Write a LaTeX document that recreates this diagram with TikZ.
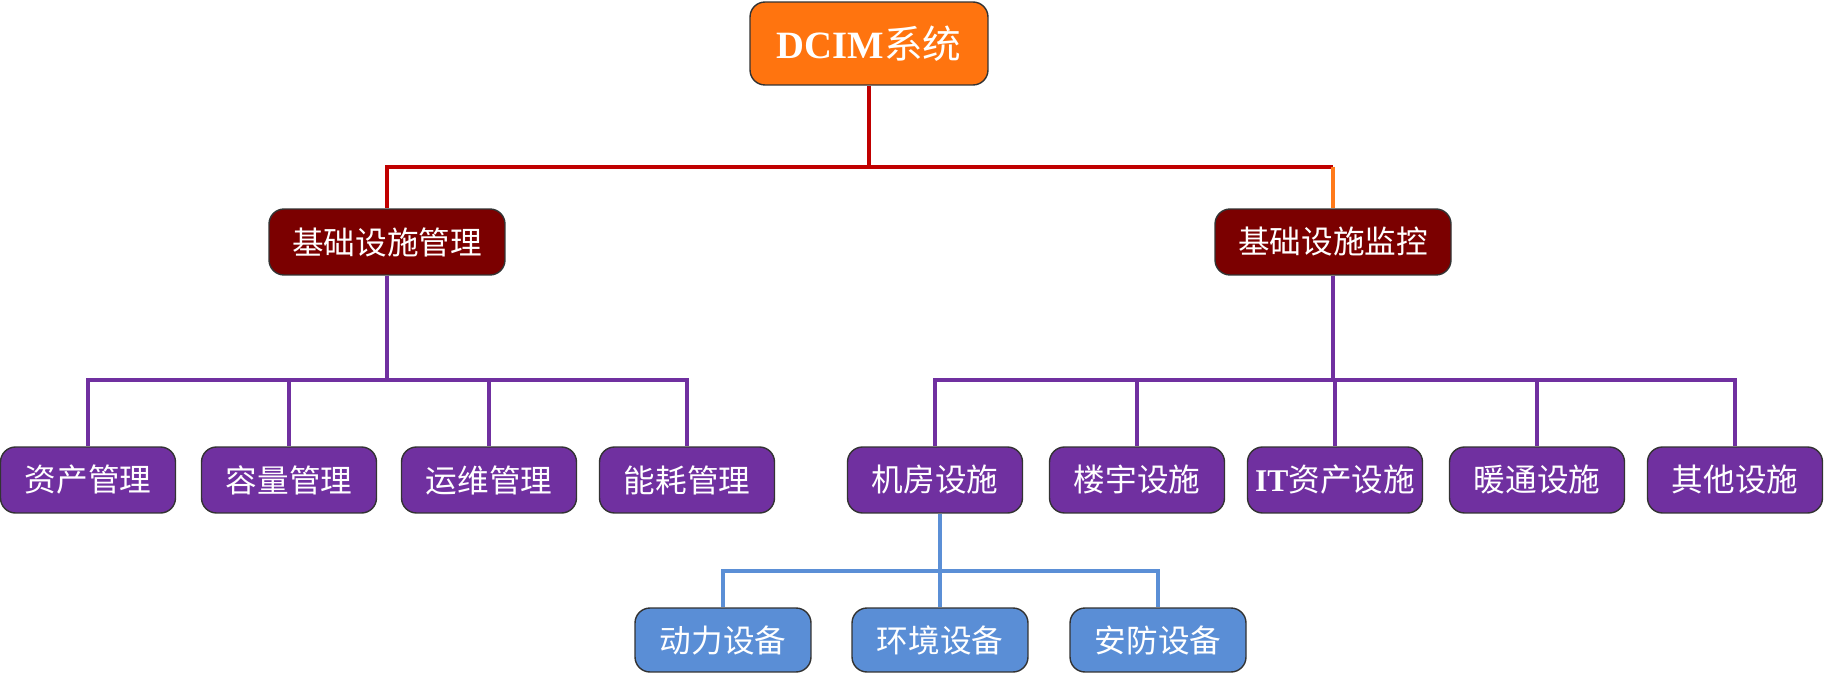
\documentclass[tikz,border=0pt]{standalone}
\usepackage{fontspec}
\setmainfont{Liberation Serif}
\newfontfamily\cjk{Noto Sans CJK SC}
\usepackage{tikz}

\definecolor{topfill}{HTML}{FF740F}
\definecolor{mgmtfill}{HTML}{7B0000}
\definecolor{subfill}{HTML}{7030A0}
\definecolor{devfill}{HTML}{5A8ED6}
\definecolor{redline}{HTML}{C00000}
\definecolor{orangeline}{HTML}{FF7A1A}
\definecolor{purpleline}{HTML}{7030A0}
\definecolor{blueline}{HTML}{5B8FD6}

\begin{document}
\begin{tikzpicture}[x=0.02cm, y=-0.02cm,
  box/.style={draw=black!80, line width=0.8pt, rounded corners=0.3cm, text=white,
    inner sep=0pt, font=\cjk\fontsize{18}{21}\selectfont},
  topbox/.style={box, fill=topfill, minimum width=4.76cm, minimum height=1.66cm,
    font=\cjk\fontsize{22}{26}\selectfont},
  mgmtbox/.style={box, fill=mgmtfill, minimum width=4.72cm, minimum height=1.32cm},
  subbox/.style={box, fill=subfill, minimum width=3.5cm, minimum height=1.32cm},
  devbox/.style={box, fill=devfill, minimum width=3.52cm, minimum height=1.28cm},
  link/.style={line width=2.2pt}]
\useasboundingbox (0,0) rectangle (1824,675);

\node[topbox] (dcim) at (869, 43.5) {{\rmfamily\bfseries DCIM}系统};

\node[mgmtbox] (mgmt) at (387, 242) {基础设施管理};
\node[mgmtbox] (mon) at (1333, 242) {基础设施监控};

\node[subbox] (zc) at (88, 480) {资产管理};
\node[subbox] (rl) at (289, 480) {容量管理};
\node[subbox] (yw) at (489, 480) {运维管理};
\node[subbox] (nh) at (687, 480) {能耗管理};

\node[subbox] (jf) at (935, 480) {机房设施};
\node[subbox] (ly) at (1137, 480) {楼宇设施};
\node[subbox] (it) at (1335, 480) {{\rmfamily\bfseries IT}资产设施};
\node[subbox] (nt) at (1537, 480) {暖通设施};
\node[subbox] (qt) at (1735, 480) {其他设施};

\node[devbox] (dl) at (723, 640) {动力设备};
\node[devbox] (hj) at (940, 640) {环境设备};
\node[devbox] (af) at (1158, 640) {安防设备};

\draw[link, redline] (dcim.south) -- ++(0,81) coordinate (rj) -| (mgmt.north);
\draw[link, redline] (rj) -- (rj -| mon.north);
\draw[link, orangeline] (rj -| mon.north) -- (mon.north);

\foreach \n in {zc,rl,yw,nh}
  \draw[link, purpleline] (mgmt.south) -- ++(0,104) -| (\n.north);
\foreach \n in {jf,ly,it,nt,qt}
  \draw[link, purpleline] (mon.south) -- ++(0,104) -| (\n.north);

\coordinate (bj) at (jf.south -| hj.north);
\foreach \n in {dl,hj,af}
  \draw[link, blueline] (bj) -- ++(0,57) -| (\n.north);
\end{tikzpicture}
\end{document}
